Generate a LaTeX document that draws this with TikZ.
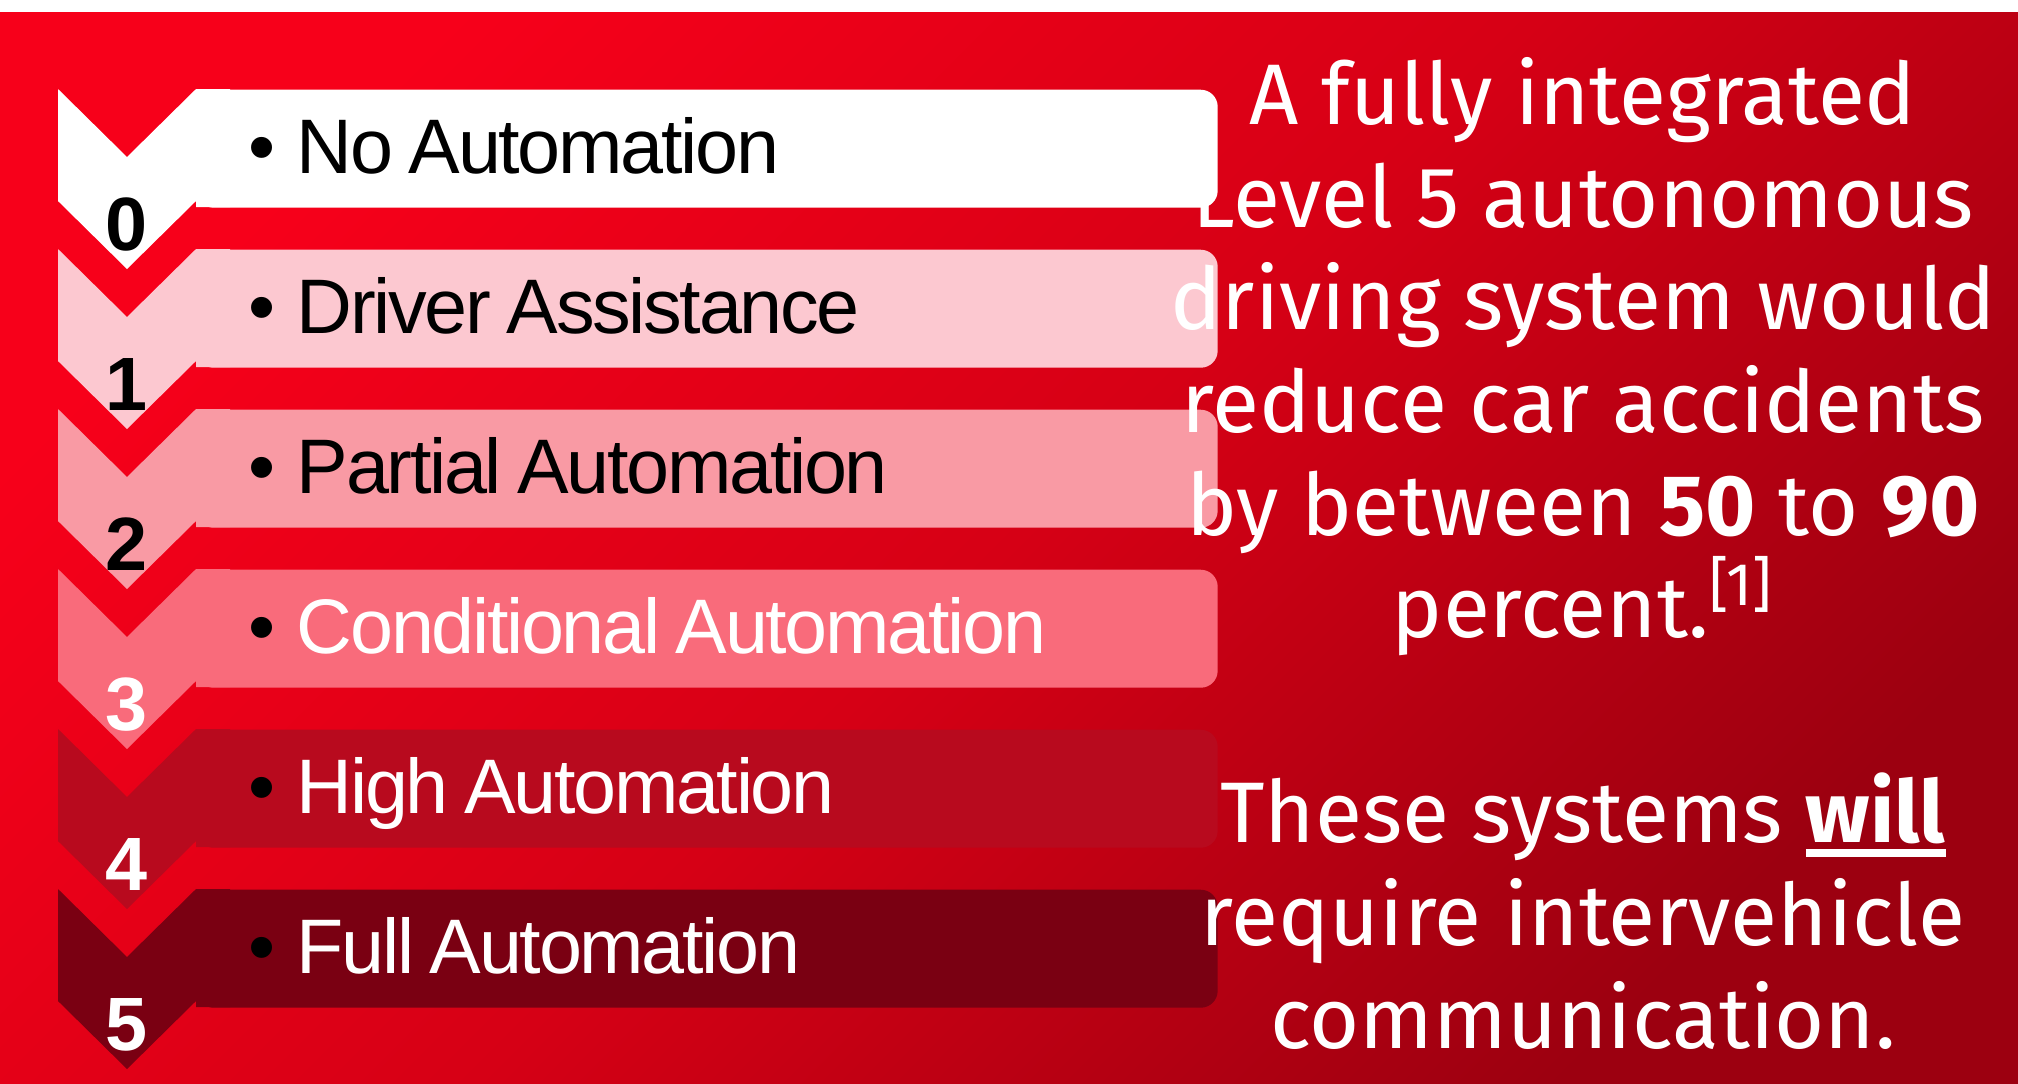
\documentclass[tikz,border=0pt]{standalone}
\usepackage{fontspec}
\usepackage{xcolor}
\usepackage{tikz}
\newfontfamily\arialfont[LetterSpace=-3.0]{Liberation Sans}
\newfontfamily\chiffrefont{Liberation Sans}
\newfontfamily\firafont{Fira Sans}
\definecolor{rougeVif}{RGB}{247,0,26}
\definecolor{rougeMilieu}{RGB}{214,0,21}
\definecolor{rougeSombre}{RGB}{156,0,16}
\definecolor{niveauUn}{RGB}{252,200,208}
\definecolor{niveauDeux}{RGB}{249,154,164}
\definecolor{niveauTrois}{RGB}{249,107,123}
\definecolor{niveauQuatre}{RGB}{184,10,30}
\definecolor{niveauCinq}{RGB}{122,0,18}
\newcommand{\souligne}[1]{\setbox0\hbox{#1}\rlap{\rule[-1.4mm]{\wd0}{0.8mm}}\box0}
\newcommand{\serre}{\spaceskip 0.2em\relax}
\newcommand{\puce}{\textcolor{black}{\textbullet}\hspace{2.1mm}}

\begin{document}
\begin{tikzpicture}[x=0.1mm,y=-0.1mm,
  niveau/.style={rectangle,rounded corners=1.7mm,anchor=north west,minimum height=11.8mm,
                 inner xsep=5.2mm,text width=91.7mm,align=left,text height=6.5mm,text depth=1.5mm,
                 font=\arialfont\fontsize{22}{26}\selectfont},
  chiffre/.style={anchor=base,inner sep=0pt,font=\chiffrefont\bfseries\fontsize{21.5}{25}\selectfont},
  chevron/.pic={\fill[pic actions] (0,0)--(69,68)--(138,0)--(172,0)--(172,118)--(138,118)
                 --(138,112)--(69,180)--(0,112)--cycle;}]

  % fond
  \fill[white] (0,0) rectangle (2018,1083);
  \shade[top color=rougeVif,bottom color=rougeSombre,middle color=rougeMilieu,shading angle=45]
    (0,12) rectangle (2018,1083);
  \useasboundingbox (0,0) rectangle (2018,1083);

  % les six niveaux
  \node[niveau,fill=white] (N0) at (196,89) {\serre\puce No Automation};
  \node[niveau,fill=niveauUn] (N1) at (196,249) {\serre\puce Driver Assistance};
  \node[niveau,fill=niveauDeux] (N2) at (196,409) {\serre\puce Partial Automation};
  \node[niveau,fill=niveauTrois,text=white] (N3) at (196,569) {\serre\puce Conditional Automation};
  \node[niveau,fill=niveauQuatre,text=white] (N4) at (196,729) {\serre\puce High Automation};
  \node[niveau,fill=niveauCinq,text=white] (N5) at (196,889) {\serre\puce Full Automation};

  \pic[fill=white] at (58,89) {chevron};
  \pic[fill=niveauUn] at (58,249) {chevron};
  \pic[fill=niveauDeux] at (58,409) {chevron};
  \pic[fill=niveauTrois] at (58,569) {chevron};
  \pic[fill=niveauQuatre] at (58,729) {chevron};
  \pic[fill=niveauCinq] at (58,889) {chevron};

  \node[chiffre] (C0) at (127,250) {0};
  \node[chiffre] (C1) at (127,410) {1};
  \node[chiffre] (C2) at (127,570) {2};
  \node[chiffre,text=white] (C3) at (127,730) {3};
  \node[chiffre,text=white] (C4) at (127,890) {4};
  \node[chiffre,text=white] (C5) at (127,1050) {5};

  % texte de droite, ancre sur la derniere ligne
  \node[font=\firafont\fontsize{24.47}{29.19}\selectfont,text=white,align=center,
        anchor=base,inner sep=0pt] (texte) at (1583,1048) {
    A fully integrated\\
    Level 5 autonomous\\
    driving system would\\
    reduce car accidents\\
    by between \textbf{50} to \textbf{90}\\
    percent.\textsuperscript{[1]}\\[29.19pt]
    These systems \souligne{\textbf{will}}\\
    require intervehicle\\
    communication.};
\end{tikzpicture}
\end{document}
